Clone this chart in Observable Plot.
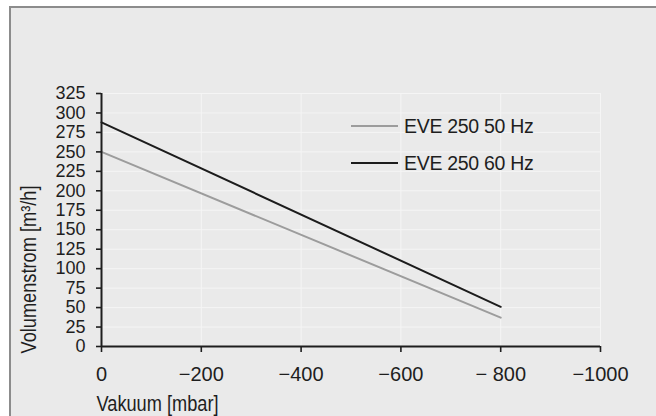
<!DOCTYPE html>
<html>
<head>
<meta charset="utf-8">
<script src="https://cdn.jsdelivr.net/npm/d3@7"></script>
<script src="https://cdn.jsdelivr.net/npm/@observablehq/plot@0.6"></script>
<style>
  html, body { margin: 0; padding: 0; background: #ffffff; }
  #wrap { position: relative; width: 656px; height: 416px; overflow: hidden; font-family: "Liberation Sans", Arial, sans-serif; }
  #panel { position: absolute; left: 9px; top: 6px; width: 680px; height: 440px; background: #eaeaea; border-left: 2px solid #8c8c8c; border-top: 2px solid #8c8c8c; }
  #chart { position: absolute; left: 0; top: 0; }
  .leg { position: absolute; left: 351px; width: 200px; height: 20px; }
  .leg .sw { position: absolute; left: 0; top: 9px; width: 47px; height: 2px; }
  .leg .tx { position: absolute; left: 53px; top: 0; font-size: 19.5px; line-height: 20px; color: #1e1e1e; white-space: nowrap; letter-spacing: -0.3px; }
</style>
</head>
<body>
<div id="wrap">
  <div id="panel"></div>
  <div id="chart"></div>
  <div id="legend"></div>
</div>
<script>
// Data
const seriesNames = ["EVE 250 50 Hz", "EVE 250 60 Hz"];
const seriesColors = ["#9c9c9c", "#1c1c1c"];
const vacuum = [0, -800];             // mbar
const flow50 = [250, 37];             // m³/h
const flow60 = [288, 51];             // m³/h
const xTicks = [0, -200, -400, -600, -800, -1000];
const xTickLabels = ["0", "\u2212200", "\u2212400", "\u2212600", "\u2212 800", "\u22121000"];
const yTicks = [0, 25, 50, 75, 100, 125, 150, 175, 200, 225, 250, 275, 300, 325];
const xTitle = "Vakuum [mbar]";
const yTitle = "Volumenstrom [m\u00B3/h]";

const rows = [];
vacuum.forEach((v, i) => {
  rows.push({series: seriesNames[0], x: v, y: flow50[i]});
  rows.push({series: seriesNames[1], x: v, y: flow60[i]});
});

const plot = Plot.plot({
  width: 656,
  height: 416,
  marginLeft: 101,
  marginRight: 56,
  marginTop: 93,
  marginBottom: 70,
  style: {background: "transparent", fontFamily: "'Liberation Sans', Arial, sans-serif", color: "#1e1e1e"},
  x: {domain: [0, -1000], ticks: xTicks},
  y: {domain: [0, 325], ticks: yTicks},
  color: {domain: seriesNames, range: seriesColors},
  marks: [
    Plot.gridY(yTicks, {stroke: "#f5f5f5", strokeOpacity: 1, strokeWidth: 1}),
    Plot.gridX(xTicks, {stroke: "#f5f5f5", strokeOpacity: 1, strokeWidth: 1}),
    Plot.line(rows, {x: "x", y: "y", z: "series", stroke: "series", strokeWidth: 2}),
    Plot.ruleX([0], {stroke: "#1e1e1e", strokeWidth: 2}),
    Plot.ruleY([0], {stroke: "#1e1e1e", strokeWidth: 2}),
    Plot.axisY(yTicks, {label: null, tickSize: 5, tickPadding: 11, fontSize: 18, stroke: "#1e1e1e", strokeWidth: 1.6}),
    Plot.axisX(xTicks, {label: null, tickSize: 6, tickPadding: 14, fontSize: 20, stroke: "#1e1e1e", strokeWidth: 1.6,
      tickFormat: (d) => xTickLabels[xTicks.indexOf(d)]}),
    Plot.text([yTitle], {frameAnchor: "bottom-left", text: d => d, rotate: -90, textAnchor: "start", lineAnchor: "middle",
      dx: -73, dy: 7, fontSize: 22, fill: "#1e1e1e", className: "ytitle"}),
    Plot.text([xTitle], {frameAnchor: "bottom-left", text: d => d, textAnchor: "start", lineAnchor: "middle",
      dx: -5, dy: 57, fontSize: 22, fill: "#1e1e1e", className: "xtitle"})
  ]
});
document.getElementById("chart").appendChild(plot);

// Condense the axis titles (the reference uses a narrow typeface)
const condense = (cls, len) => {
  plot.querySelectorAll("." + cls + " text").forEach(t => {
    t.setAttribute("textLength", len);
    t.setAttribute("lengthAdjust", "spacingAndGlyphs");
  });
};
condense("xtitle", 122);
condense("ytitle", 168);

// Legend
const legend = document.getElementById("legend");
const legendTops = [116, 153];
seriesNames.forEach((name, i) => {
  const item = document.createElement("div");
  item.className = "leg";
  item.style.top = legendTops[i] + "px";
  const sw = document.createElement("div");
  sw.className = "sw";
  sw.style.background = seriesColors[i];
  const tx = document.createElement("div");
  tx.className = "tx";
  tx.textContent = name;
  item.appendChild(sw);
  item.appendChild(tx);
  legend.appendChild(item);
});
</script>
</body>
</html>
